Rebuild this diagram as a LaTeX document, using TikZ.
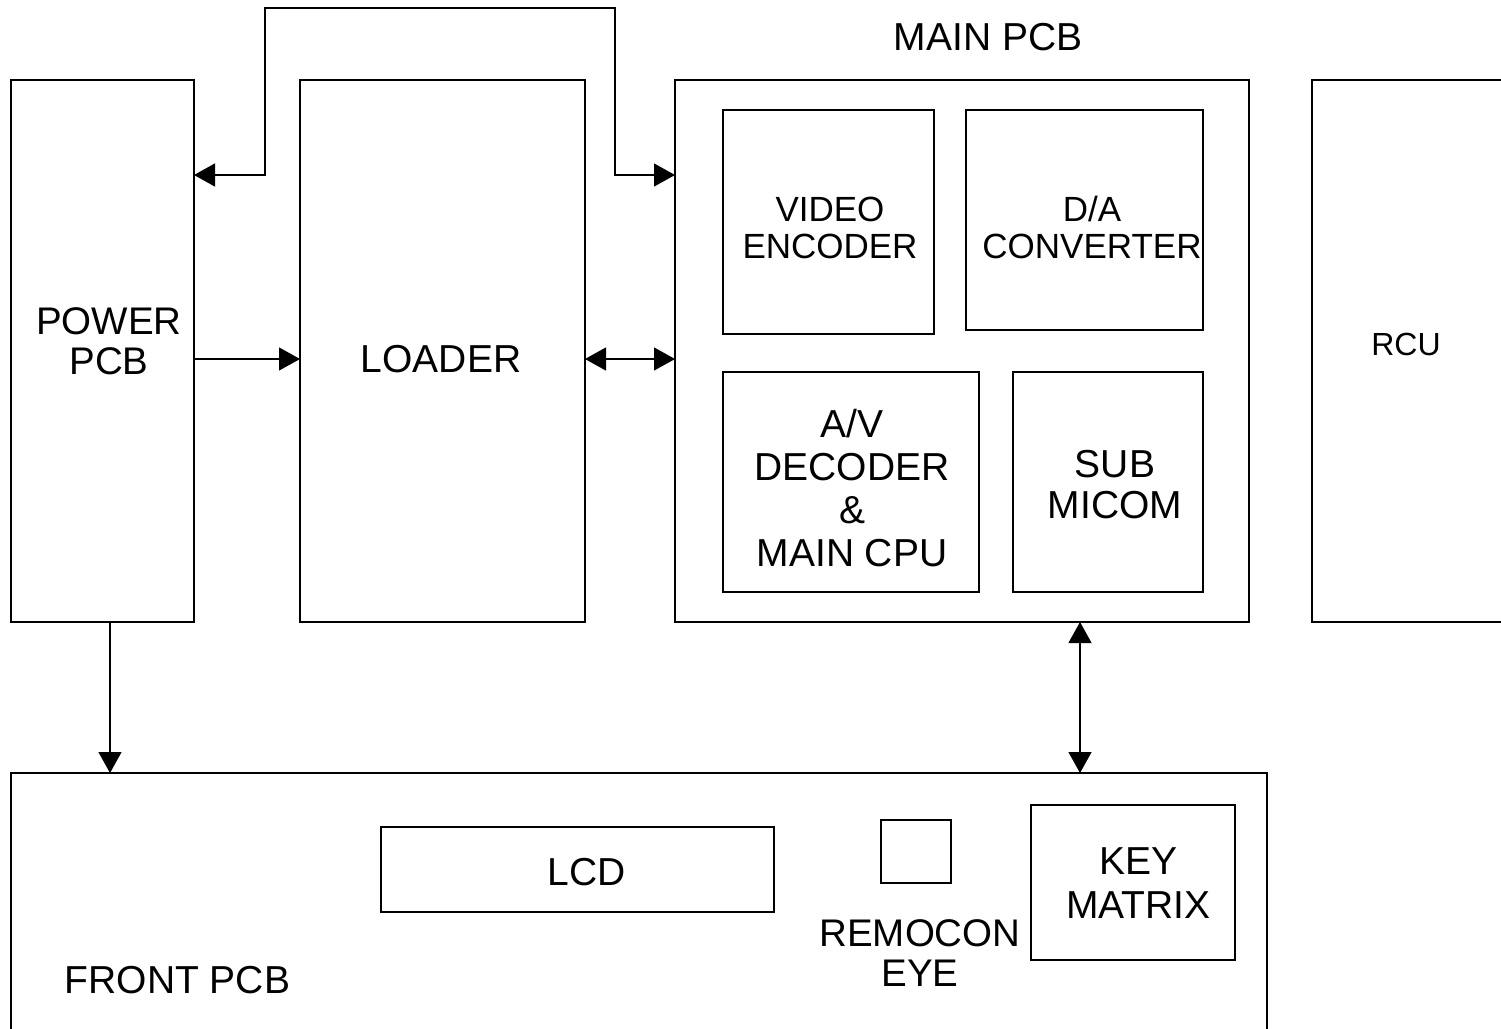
\documentclass[tikz,border=0pt]{standalone}
\usepackage{fontspec}
\setmainfont{Liberation Sans}
\usetikzlibrary{arrows.meta}
\tikzset{
  box/.style={draw, rectangle, inner sep=0pt, outer sep=0pt, line width=1.2pt},
  lbl/.style={inner sep=0pt, align=center, font=\fontsize{39}{43}\selectfont},
  lblsmall/.style={inner sep=0pt, align=center, font=\fontsize{35}{37}\selectfont},
  conn/.style={line width=1.2pt},
  tip/.tip={Triangle[length=21pt,width=23pt]}
}
\begin{document}
\begin{tikzpicture}[x=1pt,y=-1pt]
\useasboundingbox (0,0) rectangle (1501,1028);
\clip (0,0) rectangle (1501,1028);
\fill[white] (0,0) rectangle (1501,1028);
% boxes
\node[box, minimum width=183pt, minimum height=542pt] (power) at (102.5,351) {};
\node[box, minimum width=285pt, minimum height=542pt] (loader) at (442.5,351) {};
\node[box, minimum width=574pt, minimum height=542pt] (main) at (962,351) {};
\node[box, minimum width=211pt, minimum height=224pt] (venc) at (828.5,222) {};
\node[box, minimum width=237pt, minimum height=220pt] (dac) at (1084.5,220) {};
\node[box, minimum width=256pt, minimum height=220pt] (avdec) at (851,482) {};
\node[box, minimum width=190pt, minimum height=220pt] (submicom) at (1108,482) {};
\node[box, minimum width=208pt, minimum height=542pt] (rcu) at (1416,351) {};
\node[box, minimum width=1256pt, minimum height=277pt] (front) at (639,911.5) {};
\node[box, minimum width=393pt, minimum height=85pt] (lcd) at (577.5,869.5) {};
\node[box, minimum width=70pt, minimum height=63pt] (eye) at (916,851.5) {};
\node[box, minimum width=204pt, minimum height=155pt] (keym) at (1133,882.5) {};
% labels
\node[lbl, font=\fontsize{38.5}{40}\selectfont] (tpower) at (109,341.5) {POWER\\PCB};
\node[lbl] (tloader) at (441,359) {LOADER};
\node[lbl] (tmain) at (988,37) {MAIN PCB};
\node[lblsmall] (tvenc) at (830,227.5) {VIDEO\\ENCODER};
\node[lblsmall] (tdac) at (1092,227.5) {D/A\\CONVERTER};
\node[lbl] (tavdec) at (852,488) {A/V\\DECODER\\\&\\MAIN CPU};
\node[lbl, font=\fontsize{39}{41}\selectfont] (tsub) at (1115,485) {SUB\\MICOM};
\node[lbl, font=\fontsize{32}{36}\selectfont] (trcu) at (1406,344) {RCU};
\node[lbl] (tlcd) at (587,872) {LCD};
\node[lbl, font=\fontsize{38.5}{40}\selectfont] (teye) at (920,953.5) {REMOCON\\EYE};
\node[lbl, font=\fontsize{39}{44}\selectfont] (tkey) at (1138.5,883) {KEY\\MATRIX};
\node[lbl] (tfront) at (177.5,980.5) {FRONT PCB};
% helper coordinates
\coordinate (y175) at (0,175);
\coordinate (y359) at (0,359);
\coordinate (t1) at (265,8);
\coordinate (t2) at (615,8);
\coordinate (x110) at (110,0);
\coordinate (x1080) at (1080,0);
% connectors
\draw[conn, tip-tip] (power.east |- y175) -| (t1) -- (t2) |- (main.west |- y175);
\draw[conn, -tip] (power.east |- y359) -- (loader.west |- y359);
\draw[conn, tip-tip] (loader.east |- y359) -- (main.west |- y359);
\draw[conn, -tip] (power.south -| x110) -- (front.north -| x110);
\draw[conn, tip-tip] (main.south -| x1080) -- (front.north -| x1080);
\end{tikzpicture}
\end{document}
